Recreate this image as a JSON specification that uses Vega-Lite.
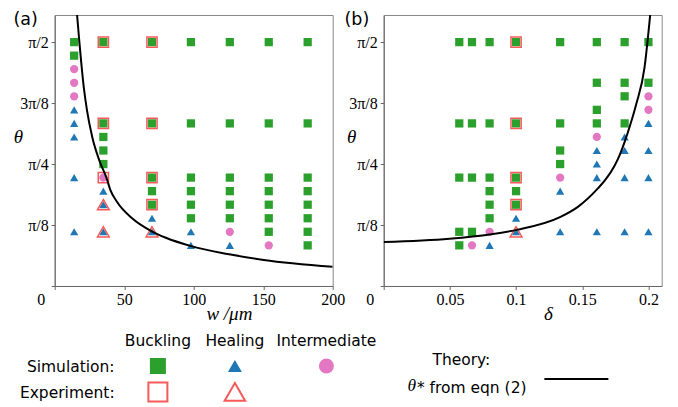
{
  "$schema": "https://vega.github.io/schema/vega-lite/v6.json",
  "autosize": {"type": "pad"},
  "padding": {"left": 12.7, "top": 10, "right": 0, "bottom": 0},
  "background": "white",
  "config": {
    "view": {"stroke": "#888", "strokeWidth": 1},
    "axis": {"labelFont": "Liberation Serif, Times New Roman, serif", "labelFontSize": 16, "labelColor": "#000", "tickSize": 3.5, "tickColor": "#666", "domainColor": "#666", "grid": false, "titleFont": "Liberation Serif, Times New Roman, serif", "titleFontSize": 19, "titleFontWeight": "normal", "titleColor": "#000"}
  },
  "datasets": {
    "pts": [
      {"panel":"a","x":14,"theta":90,"outcome":"Buckling","source":"simulation"},
      {"panel":"a","x":14,"theta":85,"outcome":"Buckling","source":"simulation"},
      {"panel":"a","x":14,"theta":80,"outcome":"Intermediate","source":"simulation"},
      {"panel":"a","x":14,"theta":75,"outcome":"Intermediate","source":"simulation"},
      {"panel":"a","x":14,"theta":70,"outcome":"Intermediate","source":"simulation"},
      {"panel":"a","x":14,"theta":65,"outcome":"Healing","source":"simulation"},
      {"panel":"a","x":14,"theta":60,"outcome":"Healing","source":"simulation"},
      {"panel":"a","x":14,"theta":55,"outcome":"Healing","source":"simulation"},
      {"panel":"a","x":14,"theta":40,"outcome":"Healing","source":"simulation"},
      {"panel":"a","x":14,"theta":20,"outcome":"Healing","source":"simulation"},
      {"panel":"a","x":35,"theta":90,"outcome":"Buckling","source":"simulation"},
      {"panel":"a","x":35,"theta":60,"outcome":"Buckling","source":"simulation"},
      {"panel":"a","x":35,"theta":55,"outcome":"Buckling","source":"simulation"},
      {"panel":"a","x":35,"theta":50,"outcome":"Buckling","source":"simulation"},
      {"panel":"a","x":35,"theta":45,"outcome":"Buckling","source":"simulation"},
      {"panel":"a","x":35,"theta":40,"outcome":"Intermediate","source":"simulation"},
      {"panel":"a","x":35,"theta":35,"outcome":"Healing","source":"simulation"},
      {"panel":"a","x":35,"theta":30,"outcome":"Healing","source":"simulation"},
      {"panel":"a","x":35,"theta":20,"outcome":"Healing","source":"simulation"},
      {"panel":"a","x":70,"theta":90,"outcome":"Buckling","source":"simulation"},
      {"panel":"a","x":70,"theta":60,"outcome":"Buckling","source":"simulation"},
      {"panel":"a","x":70,"theta":40,"outcome":"Buckling","source":"simulation"},
      {"panel":"a","x":70,"theta":35,"outcome":"Buckling","source":"simulation"},
      {"panel":"a","x":70,"theta":30,"outcome":"Buckling","source":"simulation"},
      {"panel":"a","x":70,"theta":25,"outcome":"Healing","source":"simulation"},
      {"panel":"a","x":70,"theta":20,"outcome":"Healing","source":"simulation"},
      {"panel":"a","x":98,"theta":90,"outcome":"Buckling","source":"simulation"},
      {"panel":"a","x":98,"theta":60,"outcome":"Buckling","source":"simulation"},
      {"panel":"a","x":98,"theta":40,"outcome":"Buckling","source":"simulation"},
      {"panel":"a","x":98,"theta":35,"outcome":"Buckling","source":"simulation"},
      {"panel":"a","x":98,"theta":30,"outcome":"Buckling","source":"simulation"},
      {"panel":"a","x":98,"theta":25,"outcome":"Buckling","source":"simulation"},
      {"panel":"a","x":98,"theta":20,"outcome":"Healing","source":"simulation"},
      {"panel":"a","x":98,"theta":15,"outcome":"Healing","source":"simulation"},
      {"panel":"a","x":126,"theta":90,"outcome":"Buckling","source":"simulation"},
      {"panel":"a","x":126,"theta":60,"outcome":"Buckling","source":"simulation"},
      {"panel":"a","x":126,"theta":40,"outcome":"Buckling","source":"simulation"},
      {"panel":"a","x":126,"theta":35,"outcome":"Buckling","source":"simulation"},
      {"panel":"a","x":126,"theta":30,"outcome":"Buckling","source":"simulation"},
      {"panel":"a","x":126,"theta":25,"outcome":"Buckling","source":"simulation"},
      {"panel":"a","x":126,"theta":20,"outcome":"Intermediate","source":"simulation"},
      {"panel":"a","x":126,"theta":15,"outcome":"Healing","source":"simulation"},
      {"panel":"a","x":154,"theta":90,"outcome":"Buckling","source":"simulation"},
      {"panel":"a","x":154,"theta":60,"outcome":"Buckling","source":"simulation"},
      {"panel":"a","x":154,"theta":40,"outcome":"Buckling","source":"simulation"},
      {"panel":"a","x":154,"theta":35,"outcome":"Buckling","source":"simulation"},
      {"panel":"a","x":154,"theta":30,"outcome":"Buckling","source":"simulation"},
      {"panel":"a","x":154,"theta":25,"outcome":"Buckling","source":"simulation"},
      {"panel":"a","x":154,"theta":20,"outcome":"Buckling","source":"simulation"},
      {"panel":"a","x":154,"theta":15,"outcome":"Intermediate","source":"simulation"},
      {"panel":"a","x":182,"theta":90,"outcome":"Buckling","source":"simulation"},
      {"panel":"a","x":182,"theta":60,"outcome":"Buckling","source":"simulation"},
      {"panel":"a","x":182,"theta":40,"outcome":"Buckling","source":"simulation"},
      {"panel":"a","x":182,"theta":35,"outcome":"Buckling","source":"simulation"},
      {"panel":"a","x":182,"theta":30,"outcome":"Buckling","source":"simulation"},
      {"panel":"a","x":182,"theta":25,"outcome":"Buckling","source":"simulation"},
      {"panel":"a","x":182,"theta":20,"outcome":"Buckling","source":"simulation"},
      {"panel":"a","x":182,"theta":15,"outcome":"Buckling","source":"simulation"},
      {"panel":"a","x":35,"theta":90,"outcome":"Buckling","source":"experiment"},
      {"panel":"a","x":35,"theta":60,"outcome":"Buckling","source":"experiment"},
      {"panel":"a","x":35,"theta":40,"outcome":"Buckling","source":"experiment"},
      {"panel":"a","x":35,"theta":30,"outcome":"Healing","source":"experiment"},
      {"panel":"a","x":35,"theta":20,"outcome":"Healing","source":"experiment"},
      {"panel":"a","x":70,"theta":90,"outcome":"Buckling","source":"experiment"},
      {"panel":"a","x":70,"theta":60,"outcome":"Buckling","source":"experiment"},
      {"panel":"a","x":70,"theta":40,"outcome":"Buckling","source":"experiment"},
      {"panel":"a","x":70,"theta":30,"outcome":"Buckling","source":"experiment"},
      {"panel":"a","x":70,"theta":20,"outcome":"Healing","source":"experiment"},
      {"panel":"b","x":0.0571,"theta":90,"outcome":"Buckling","source":"simulation"},
      {"panel":"b","x":0.0571,"theta":60,"outcome":"Buckling","source":"simulation"},
      {"panel":"b","x":0.0571,"theta":40,"outcome":"Buckling","source":"simulation"},
      {"panel":"b","x":0.0571,"theta":20,"outcome":"Buckling","source":"simulation"},
      {"panel":"b","x":0.0571,"theta":15,"outcome":"Buckling","source":"simulation"},
      {"panel":"b","x":0.0667,"theta":90,"outcome":"Buckling","source":"simulation"},
      {"panel":"b","x":0.0667,"theta":60,"outcome":"Buckling","source":"simulation"},
      {"panel":"b","x":0.0667,"theta":40,"outcome":"Buckling","source":"simulation"},
      {"panel":"b","x":0.0667,"theta":20,"outcome":"Buckling","source":"simulation"},
      {"panel":"b","x":0.0667,"theta":15,"outcome":"Intermediate","source":"simulation"},
      {"panel":"b","x":0.08,"theta":90,"outcome":"Buckling","source":"simulation"},
      {"panel":"b","x":0.08,"theta":60,"outcome":"Buckling","source":"simulation"},
      {"panel":"b","x":0.08,"theta":40,"outcome":"Buckling","source":"simulation"},
      {"panel":"b","x":0.08,"theta":35,"outcome":"Buckling","source":"simulation"},
      {"panel":"b","x":0.08,"theta":30,"outcome":"Buckling","source":"simulation"},
      {"panel":"b","x":0.08,"theta":25,"outcome":"Buckling","source":"simulation"},
      {"panel":"b","x":0.08,"theta":20,"outcome":"Intermediate","source":"simulation"},
      {"panel":"b","x":0.08,"theta":15,"outcome":"Healing","source":"simulation"},
      {"panel":"b","x":0.1,"theta":90,"outcome":"Buckling","source":"simulation"},
      {"panel":"b","x":0.1,"theta":60,"outcome":"Buckling","source":"simulation"},
      {"panel":"b","x":0.1,"theta":40,"outcome":"Buckling","source":"simulation"},
      {"panel":"b","x":0.1,"theta":35,"outcome":"Buckling","source":"simulation"},
      {"panel":"b","x":0.1,"theta":30,"outcome":"Buckling","source":"simulation"},
      {"panel":"b","x":0.1,"theta":25,"outcome":"Healing","source":"simulation"},
      {"panel":"b","x":0.1,"theta":20,"outcome":"Healing","source":"simulation"},
      {"panel":"b","x":0.1333,"theta":90,"outcome":"Buckling","source":"simulation"},
      {"panel":"b","x":0.1333,"theta":60,"outcome":"Buckling","source":"simulation"},
      {"panel":"b","x":0.1333,"theta":50,"outcome":"Buckling","source":"simulation"},
      {"panel":"b","x":0.1333,"theta":45,"outcome":"Buckling","source":"simulation"},
      {"panel":"b","x":0.1333,"theta":40,"outcome":"Intermediate","source":"simulation"},
      {"panel":"b","x":0.1333,"theta":35,"outcome":"Healing","source":"simulation"},
      {"panel":"b","x":0.1333,"theta":20,"outcome":"Healing","source":"simulation"},
      {"panel":"b","x":0.161,"theta":90,"outcome":"Buckling","source":"simulation"},
      {"panel":"b","x":0.161,"theta":75,"outcome":"Buckling","source":"simulation"},
      {"panel":"b","x":0.161,"theta":65,"outcome":"Buckling","source":"simulation"},
      {"panel":"b","x":0.161,"theta":60,"outcome":"Buckling","source":"simulation"},
      {"panel":"b","x":0.161,"theta":55,"outcome":"Intermediate","source":"simulation"},
      {"panel":"b","x":0.161,"theta":50,"outcome":"Healing","source":"simulation"},
      {"panel":"b","x":0.161,"theta":45,"outcome":"Healing","source":"simulation"},
      {"panel":"b","x":0.161,"theta":40,"outcome":"Healing","source":"simulation"},
      {"panel":"b","x":0.161,"theta":20,"outcome":"Healing","source":"simulation"},
      {"panel":"b","x":0.182,"theta":90,"outcome":"Buckling","source":"simulation"},
      {"panel":"b","x":0.182,"theta":75,"outcome":"Buckling","source":"simulation"},
      {"panel":"b","x":0.182,"theta":70,"outcome":"Buckling","source":"simulation"},
      {"panel":"b","x":0.182,"theta":60,"outcome":"Buckling","source":"simulation"},
      {"panel":"b","x":0.182,"theta":55,"outcome":"Healing","source":"simulation"},
      {"panel":"b","x":0.182,"theta":50,"outcome":"Healing","source":"simulation"},
      {"panel":"b","x":0.182,"theta":40,"outcome":"Healing","source":"simulation"},
      {"panel":"b","x":0.182,"theta":20,"outcome":"Healing","source":"simulation"},
      {"panel":"b","x":0.2,"theta":90,"outcome":"Buckling","source":"simulation"},
      {"panel":"b","x":0.2,"theta":75,"outcome":"Buckling","source":"simulation"},
      {"panel":"b","x":0.2,"theta":70,"outcome":"Intermediate","source":"simulation"},
      {"panel":"b","x":0.2,"theta":65,"outcome":"Intermediate","source":"simulation"},
      {"panel":"b","x":0.2,"theta":60,"outcome":"Healing","source":"simulation"},
      {"panel":"b","x":0.2,"theta":50,"outcome":"Healing","source":"simulation"},
      {"panel":"b","x":0.2,"theta":40,"outcome":"Healing","source":"simulation"},
      {"panel":"b","x":0.2,"theta":20,"outcome":"Healing","source":"simulation"},
      {"panel":"b","x":0.1,"theta":90,"outcome":"Buckling","source":"experiment"},
      {"panel":"b","x":0.1,"theta":60,"outcome":"Buckling","source":"experiment"},
      {"panel":"b","x":0.1,"theta":40,"outcome":"Buckling","source":"experiment"},
      {"panel":"b","x":0.1,"theta":30,"outcome":"Buckling","source":"experiment"},
      {"panel":"b","x":0.1,"theta":20,"outcome":"Healing","source":"experiment"}
    ],
    "theory": [
      {"panel":"a","x":16.1,"theta":100},
      {"panel":"a","x":17.5,"theta":91.5},
      {"panel":"a","x":19,"theta":83},
      {"panel":"a","x":21,"theta":73},
      {"panel":"a","x":23.3,"theta":64.6},
      {"panel":"a","x":27,"theta":55},
      {"panel":"a","x":32.2,"theta":46.2},
      {"panel":"a","x":37.2,"theta":40},
      {"panel":"a","x":40,"theta":35.5},
      {"panel":"a","x":44.9,"theta":31},
      {"panel":"a","x":55.7,"theta":25},
      {"panel":"a","x":70.1,"theta":20.1},
      {"panel":"a","x":80,"theta":17.8},
      {"panel":"a","x":97.6,"theta":14.8},
      {"panel":"a","x":125.5,"theta":11.7},
      {"panel":"a","x":150.4,"theta":9.6},
      {"panel":"a","x":200,"theta":7.1},
      {"panel":"b","x":0,"theta":16.2},
      {"panel":"b","x":0.0497,"theta":17.4},
      {"panel":"b","x":0.0812,"theta":19.1},
      {"panel":"b","x":0.1014,"theta":20.8},
      {"panel":"b","x":0.1336,"theta":25.5},
      {"panel":"b","x":0.1467,"theta":29.2},
      {"panel":"b","x":0.1618,"theta":36},
      {"panel":"b","x":0.1681,"theta":39.6},
      {"panel":"b","x":0.1743,"theta":44.3},
      {"panel":"b","x":0.1769,"theta":46.8},
      {"panel":"b","x":0.1819,"theta":53},
      {"panel":"b","x":0.1869,"theta":60.5},
      {"panel":"b","x":0.1907,"theta":67},
      {"panel":"b","x":0.197,"theta":80.5},
      {"panel":"b","x":0.2013,"theta":100}
    ],
    "legend": [
      {"role":"head","item":"Buckling","col":1,"row":0},
      {"role":"head","item":"Healing","col":2,"row":0},
      {"role":"head","item":"Intermediate","col":3,"row":0},
      {"role":"rowlabel","item":"Simulation:","col":0,"row":1},
      {"role":"rowlabel","item":"Experiment:","col":0,"row":2},
      {"role":"simulation","item":"Buckling","col":1,"row":1},
      {"role":"simulation","item":"Healing","col":2,"row":1},
      {"role":"simulation","item":"Intermediate","col":3,"row":1},
      {"role":"experiment","item":"Buckling","col":1,"row":2},
      {"role":"experiment","item":"Healing","col":2,"row":2},
      {"role":"theoryhead","item":"Theory:","col":4,"row":1},
      {"role":"theorysym","item":"θ","col":4,"row":2},
      {"role":"theoryeqn","item":"* from eqn (2)","col":4,"row":2},
      {"role":"theoryline","item":"line","col":5,"col2":6,"row":1.5}
    ]
  },
  "columns": 2,
  "bounds": "flush",
  "spacing": {"row": 40, "column": 51},
  "concat": [
    {
      "width": 278, "height": 271,
      "title": {"text": "(a)", "anchor": "start", "frame": "group", "orient": "top", "dx": -41.3, "dy": 15, "offset": -12, "baseline": "alphabetic", "font": "DejaVu Sans", "fontSize": 17.5, "fontWeight": "normal", "color": "#000"},
      "encoding": {
        "x": {"field": "x", "type": "quantitative", "scale": {"domain": [0, 200], "nice": false, "zero": false},
          "axis": {"values": [0, 50, 100, 150, 200], "labelFlush": false, "labelOverlap": false, "labelBaseline": "top", "labelPadding": 2.5,
            "labelOffset": {"condition": {"test": "datum.value === 0", "value": -14}, "value": 0},
            "title": "w /μm", "titleFontStyle": "italic", "titleX": 174.2, "titleY": 34, "titleAlign": "center", "titleBaseline": "alphabetic"}},
        "y": {"field": "theta", "type": "quantitative", "scale": {"domain": [0, 100], "nice": false, "zero": false},
          "axis": {"values": [0, 22.5, 45, 67.5, 90], "labelExpr": "datum.value === 22.5 ? 'π/8' : datum.value === 45 ? 'π/4' : datum.value === 67.5 ? '3π/8' : datum.value === 90 ? 'π/2' : ''",
            "labelPadding": 3, "labelBaseline": "middle", "title": "θ", "titleAngle": 0, "titleX": -36.8, "titleY": 127.5, "titleAlign": "center", "titleBaseline": "alphabetic", "titleFontStyle": "italic"}}
      },
      "layer": [
        {"data": {"name": "pts"}, "transform": [{"filter": "datum.panel === 'a' && datum.source === 'simulation'"}],
          "mark": {"type": "point", "filled": true, "size": 68, "opacity": 1},
          "encoding": {
            "shape": {"field": "outcome", "type": "nominal", "scale": {"domain": ["Buckling", "Healing", "Intermediate"], "range": ["square", "triangle-up", "circle"]}, "legend": null},
            "color": {"field": "outcome", "type": "nominal", "scale": {"domain": ["Buckling", "Healing", "Intermediate"], "range": ["#2ca02c", "#1f77b4", "#e377c2"]}, "legend": null}}},
        {"data": {"name": "pts"}, "transform": [{"filter": "datum.panel === 'a' && datum.source === 'experiment' && datum.outcome === 'Buckling'"}],
          "mark": {"type": "point", "shape": "square", "filled": false, "size": 104, "strokeWidth": 1.5, "color": "#f55a5a", "opacity": 1}, "encoding": {}},
        {"data": {"name": "pts"}, "transform": [{"filter": "datum.panel === 'a' && datum.source === 'experiment' && datum.outcome === 'Healing'"}],
          "mark": {"type": "point", "shape": "triangle-up", "filled": false, "size": 140, "strokeWidth": 1.5, "color": "#f55a5a", "opacity": 1}, "encoding": {}},
        {"data": {"name": "theory"}, "transform": [{"filter": "datum.panel === 'a'"}],
          "mark": {"type": "line", "color": "#000", "strokeWidth": 2, "clip": true, "interpolate": "monotone"}, "encoding": {}}
      ]
    },
    {
      "width": 278, "height": 271,
      "title": {"text": "(b)", "anchor": "start", "frame": "group", "orient": "top", "dx": -39.2, "dy": 15, "offset": -12, "baseline": "alphabetic", "font": "DejaVu Sans", "fontSize": 17.5, "fontWeight": "normal", "color": "#000"},
      "encoding": {
        "x": {"field": "x", "type": "quantitative", "scale": {"domain": [0, 0.21], "nice": false, "zero": false},
          "axis": {"values": [0, 0.05, 0.1, 0.15, 0.2], "labelExpr": "datum.value === 0 ? '0' : format(datum.value, '.2~f')", "labelFlush": false, "labelOverlap": false, "labelBaseline": "top", "labelPadding": 2.5,
            "labelOffset": {"condition": {"test": "datum.value === 0", "value": -14}, "value": 0},
            "title": "δ", "titleX": 164.1, "titleY": 34, "titleAlign": "center", "titleBaseline": "alphabetic", "titleFontStyle": "italic"}},
        "y": {"field": "theta", "type": "quantitative", "scale": {"domain": [0, 100], "nice": false, "zero": false},
          "axis": {"values": [0, 22.5, 45, 67.5, 90], "labelExpr": "datum.value === 22.5 ? 'π/8' : datum.value === 45 ? 'π/4' : datum.value === 67.5 ? '3π/8' : datum.value === 90 ? 'π/2' : ''",
            "labelPadding": 3, "labelBaseline": "middle", "title": "θ", "titleAngle": 0, "titleX": -32.5, "titleY": 127.5, "titleAlign": "center", "titleBaseline": "alphabetic", "titleFontStyle": "italic"}}
      },
      "layer": [
        {"data": {"name": "pts"}, "transform": [{"filter": "datum.panel === 'b' && datum.source === 'simulation'"}],
          "mark": {"type": "point", "filled": true, "size": 68, "opacity": 1},
          "encoding": {
            "shape": {"field": "outcome", "type": "nominal", "scale": {"domain": ["Buckling", "Healing", "Intermediate"], "range": ["square", "triangle-up", "circle"]}, "legend": null},
            "color": {"field": "outcome", "type": "nominal", "scale": {"domain": ["Buckling", "Healing", "Intermediate"], "range": ["#2ca02c", "#1f77b4", "#e377c2"]}, "legend": null}}},
        {"data": {"name": "pts"}, "transform": [{"filter": "datum.panel === 'b' && datum.source === 'experiment' && datum.outcome === 'Buckling'"}],
          "mark": {"type": "point", "shape": "square", "filled": false, "size": 104, "strokeWidth": 1.5, "color": "#f55a5a", "opacity": 1}, "encoding": {}},
        {"data": {"name": "pts"}, "transform": [{"filter": "datum.panel === 'b' && datum.source === 'experiment' && datum.outcome === 'Healing'"}],
          "mark": {"type": "point", "shape": "triangle-up", "filled": false, "size": 140, "strokeWidth": 1.5, "color": "#f55a5a", "opacity": 1}, "encoding": {}},
        {"data": {"name": "theory"}, "transform": [{"filter": "datum.panel === 'b'"}],
          "mark": {"type": "line", "color": "#000", "strokeWidth": 2, "clip": true, "interpolate": "monotone"}, "encoding": {}}
      ]
    },
    {
      "width": 278, "height": 80,
      "view": {"stroke": null},
      "data": {"name": "legend"},
      "encoding": {
        "x": {"field": "col", "type": "quantitative", "scale": {"domain": [0, 1, 2, 3, 4, 5, 6], "range": [59.9, 103.2, 180.2, 271.7, 406.7, 489.7, 553.7], "zero": false, "nice": false}, "axis": null},
        "y": {"field": "row", "type": "quantitative", "scale": {"domain": [0, 1, 2], "range": [14.5, 40, 66], "zero": false, "nice": false}, "axis": null}
      },
      "layer": [
        {"transform": [{"filter": "datum.role === 'head'"}], "mark": {"type": "text", "font": "DejaVu Sans", "fontSize": 15.5, "align": "center", "baseline": "alphabetic", "dy": 5.6, "color": "#000"}, "encoding": {"text": {"field": "item"}}},
        {"transform": [{"filter": "datum.role === 'rowlabel'"}], "mark": {"type": "text", "font": "DejaVu Sans", "fontSize": 15.5, "align": "right", "baseline": "alphabetic", "dy": 5.6, "color": "#000"}, "encoding": {"text": {"field": "item"}}},
        {"transform": [{"filter": "datum.role === 'simulation' && datum.item === 'Buckling'"}], "mark": {"type": "point", "shape": "square", "filled": true, "size": 256, "color": "#2ca02c", "opacity": 1}, "encoding": {}},
        {"transform": [{"filter": "datum.role === 'simulation' && datum.item === 'Healing'"}], "mark": {"type": "point", "shape": "triangle-up", "filled": true, "size": 196, "color": "#1f77b4", "opacity": 1}, "encoding": {}},
        {"transform": [{"filter": "datum.role === 'simulation' && datum.item === 'Intermediate'"}], "mark": {"type": "point", "shape": "circle", "filled": true, "size": 225, "color": "#e377c2", "opacity": 1, "dx": 4}, "encoding": {}},
        {"transform": [{"filter": "datum.role === 'experiment' && datum.item === 'Buckling'"}], "mark": {"type": "point", "shape": "square", "filled": false, "size": 361, "strokeWidth": 2, "color": "#f55a5a", "opacity": 1}, "encoding": {}},
        {"transform": [{"filter": "datum.role === 'experiment' && datum.item === 'Healing'"}], "mark": {"type": "point", "shape": "triangle-up", "filled": false, "size": 420, "strokeWidth": 2, "color": "#f55a5a", "opacity": 1}, "encoding": {}},
        {"transform": [{"filter": "datum.role === 'theoryhead'"}], "mark": {"type": "text", "font": "DejaVu Sans", "fontSize": 15.5, "align": "center", "baseline": "alphabetic", "dy": -0.5, "color": "#000"}, "encoding": {"text": {"field": "item"}}},
        {"transform": [{"filter": "datum.role === 'theorysym'"}], "mark": {"type": "text", "font": "Liberation Serif, Times New Roman, serif", "fontStyle": "italic", "fontSize": 17.5, "align": "left", "baseline": "alphabetic", "dx": -54, "dy": -1, "color": "#000"}, "encoding": {"text": {"field": "item"}}},
        {"transform": [{"filter": "datum.role === 'theoryeqn'"}], "mark": {"type": "text", "font": "DejaVu Sans", "fontSize": 15.5, "align": "left", "baseline": "alphabetic", "dx": -44.5, "dy": 1.5, "color": "#000"}, "encoding": {"text": {"field": "item"}}},
        {"transform": [{"filter": "datum.role === 'theoryline'"}], "mark": {"type": "rule", "color": "#000", "strokeWidth": 2}, "encoding": {"x2": {"field": "col2"}}}
      ]
    }
  ]
}
